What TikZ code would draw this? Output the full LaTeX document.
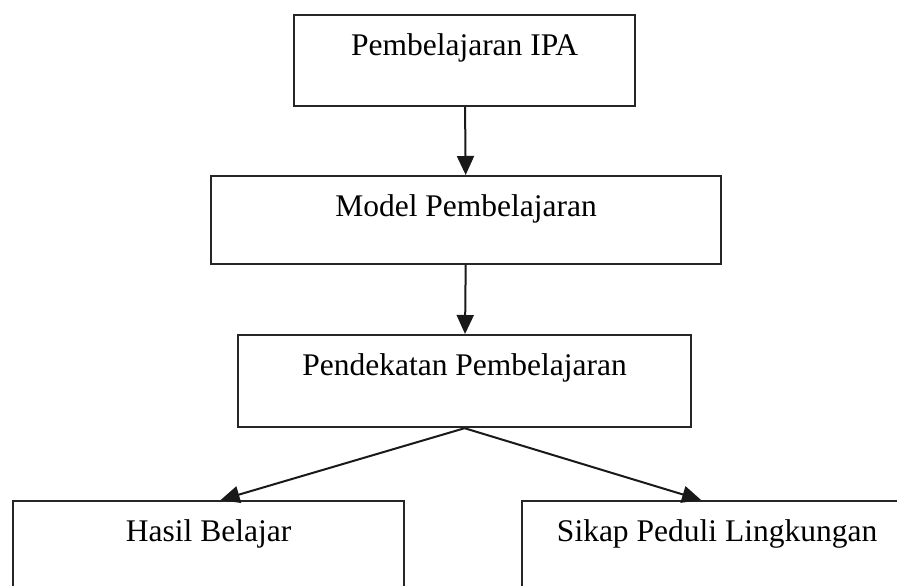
\documentclass[tikz,border=0pt]{standalone}
\usepackage{fontspec}
\setmainfont{Liberation Serif}
\usetikzlibrary{arrows.meta}

\begin{document}
\begin{tikzpicture}[x=1pt, y=-1pt]
\tikzstyle{every node}=[rectangle, draw=black!85, line width=2.2pt,
                        anchor=north west, inner xsep=0pt, inner ysep=0pt,
                        text height=40pt, font=\fontsize{31.5}{38}\selectfont]
\tikzstyle{panah}=[line width=2pt, draw=black!90,
                   -{Triangle[length=19pt, width=17pt]}]
\clip (0,0) rectangle (897,586);
\node (ipa) at (293,14) [minimum width=341pt, text depth=51pt] {Pembelajaran IPA};
\node (model) at (210,175) [minimum width=510pt, text depth=48pt] {Model Pembelajaran};
\node (pendekatan) at (237,334) [minimum width=453pt, text depth=52pt] {Pendekatan Pembelajaran};
% bottom boxes run past the edge of the picture
\node (hasil) at (12,500) [minimum width=391pt, text depth=70pt] {Hasil Belajar};
\node (sikap) at (521,500) [minimum width=390pt, text depth=70pt] {Sikap Peduli Lingkungan};

\draw[panah] (ipa) -- (model);
\draw[panah] (model) -- (pendekatan);
\draw[panah] (pendekatan.south) -- ([xshift=12pt]hasil.north);
\draw[panah] (pendekatan.south) -- ([xshift=-16pt]sikap.north);
\end{tikzpicture}
\end{document}
